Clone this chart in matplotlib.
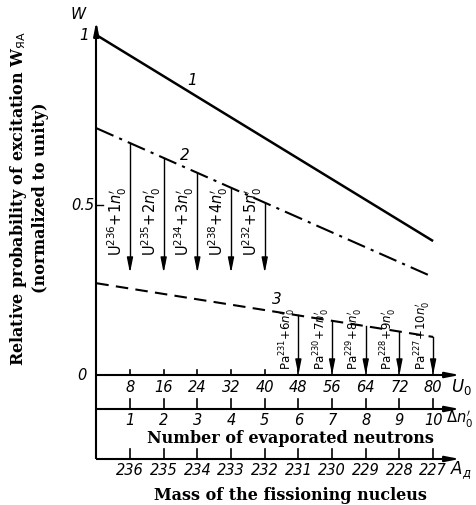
import matplotlib
matplotlib.use("Agg")
import matplotlib.pyplot as plt

# ---------------- data ----------------
U0_ticks = [8, 16, 24, 32, 40, 48, 56, 64, 72, 80]
dn_ticks = [1, 2, 3, 4, 5, 6, 7, 8, 9, 10]
A_ticks = [236, 235, 234, 233, 232, 231, 230, 229, 228, 227]

line_x = [0, 80]
line1 = [1.0, 0.394]
line2 = [0.726, 0.288]
line3 = [0.270, 0.112]

U_arrow_x = [8, 16, 24, 32, 40]
U_mass = [236, 235, 234, 238, 232]
U_n = [1, 2, 3, 4, 5]
U_arrow_end = 0.30

Pa_arrow_x = [48, 56, 64, 72, 80]
Pa_mass = [231, 230, 229, 228, 227]
Pa_n = [6, 7, 8, 9, 10]
Pa_arrow_end = 0.0

# ---------------- figure ----------------
fig = plt.figure(figsize=(4.76, 5.05), dpi=100)
ax = fig.add_axes([0, 0, 1, 1])
px_per_x = 4.21
px_per_y = 340.0
x0_px, y0_px = 96.3, 375.0
ax.set_xlim(-x0_px / px_per_x, (476 - x0_px) / px_per_x)
ax.set_ylim(-(505 - y0_px) / px_per_y, y0_px / px_per_y)
ax.axis("off")

IT = dict(family=["DejaVu Sans"], style="italic", color="black")
BOLD = dict(family=["DejaVu Serif"], weight="bold", color="black")

def interp(xs, ys, x):
    return ys[0] + (ys[1] - ys[0]) * (x - xs[0]) / (xs[1] - xs[0])

def arrow(x1, y1, x2, y2, lw=1.0, ms=10):
    ax.annotate("", xy=(x2, y2), xytext=(x1, y1),
                arrowprops=dict(arrowstyle="-|>,head_width=0.18,head_length=0.9",
                                lw=lw, color="black", mutation_scale=ms,
                                shrinkA=0, shrinkB=0))

# vertical axis
yb2 = -0.100
yb3 = -0.247
ax.plot([0, 0], [yb3, 1.0], color="black", lw=1.5, solid_capstyle="butt")
arrow(0, 1.0, 0, 1.04, lw=1.5, ms=9)
ax.plot([0, 1.5], [0.5, 0.5], color="black", lw=1.0)
ax.text(-3.0, 1.0, "1", fontsize=11, ha="center", va="center", **IT)
ax.text(-3.2, 0.5, "0.5", fontsize=10.5, ha="center", va="center", **IT)
ax.text(-3.4, 0.0, "0", fontsize=10.5, ha="center", va="center", **IT)
ax.text(-4.3, 1.06, "W", fontsize=11, ha="center", va="center", **IT)

# y label
ax.text(-18.4, 0.52, "Relative probability of excitation W$_{\\mathrm{ЯA}}$",
        rotation=90, fontsize=11.5, ha="center", va="center", **BOLD)
ax.text(-13.2, 0.52, "(normalized to unity)",
        rotation=90, fontsize=11.5, ha="center", va="center", **BOLD)

# horizontal axes
x_end = 86.3
for yb in (0.0, yb2, yb3):
    ax.plot([0, x_end - 1.5], [yb, yb], color="black", lw=1.5, solid_capstyle="butt")
    arrow(x_end - 2, yb, x_end, yb, lw=1.5, ms=9)

tick_h = 5 / px_per_y
for x in U0_ticks:
    ax.plot([x, x], [0, tick_h], color="black", lw=1.2)
    ax.plot([x, x], [yb2, yb2 + 2 * tick_h], color="black", lw=1.2)
    ax.plot([x, x], [yb3, yb3 + 2 * tick_h], color="black", lw=1.2)
for x, lab in zip(U0_ticks, U0_ticks):
    ax.text(x, -0.038, str(lab), fontsize=10.5, ha="center", va="center", **IT)
for x, lab in zip(U0_ticks, dn_ticks):
    ax.text(x, -0.135, str(lab), fontsize=10.5, ha="center", va="center", **IT)
for x, lab in zip(U0_ticks, A_ticks):
    ax.text(x, -0.282, str(lab), fontsize=10.5, ha="center", va="center", **IT)

ax.text(86.8, -0.035, "$U_0$", fontsize=12, ha="center", va="center", color="black")
ax.text(86.2, -0.13, "$\\Delta n_0^{\\prime}$", fontsize=10.5, ha="center", va="center", color="black")
ax.text(86.6, -0.28, "$A_д$", fontsize=12, ha="center", va="center", color="black")

ax.text(46.0, -0.188, "Number of evaporated neutrons", fontsize=11.5,
        ha="center", va="center", **BOLD)
ax.text(46.0, -0.353, "Mass of the fissioning nucleus", fontsize=11.5,
        ha="center", va="center", **BOLD)

# curves
ax.plot(line_x, line1, color="black", lw=1.8, solid_capstyle="butt")
ax.plot(line_x, line2, color="black", lw=1.5, dashes=(9, 3, 1.5, 3))
ax.plot(line_x, line3, color="black", lw=1.5, dashes=(6, 3.5))
ax.text(22.7, 0.865, "1", fontsize=11, ha="center", va="center", **IT)
ax.text(21.0, 0.645, "2", fontsize=11, ha="center", va="center", **IT)
ax.text(43.0, 0.222, "3", fontsize=11, ha="center", va="center", **IT)

# U arrows and labels
for x, m, n in zip(U_arrow_x, U_mass, U_n):
    ytop = interp(line_x, line2, x)
    ax.plot([x, x], [ytop, U_arrow_end + 0.03], color="black", lw=1.0)
    arrow(x, U_arrow_end + 0.035, x, U_arrow_end, lw=1.0, ms=10)
    ax.text(x - 3.0, 0.35, "$\\mathrm{U}^{%d}{+}%dn_0^{\\prime}$" % (m, n),
            rotation=90, fontsize=10.5, ha="center", va="bottom", color="black")

# Pa arrows and labels
for x, m, n in zip(Pa_arrow_x, Pa_mass, Pa_n):
    ytop = interp(line_x, line3, x)
    ax.plot([x, x], [ytop, Pa_arrow_end + 0.03], color="black", lw=1.0)
    arrow(x, Pa_arrow_end + 0.035, x, Pa_arrow_end, lw=1.0, ms=10)
    ax.text(x - 2.5, 0.015, "$\\mathrm{Pa}^{%d}{+}%dn_0^{\\prime}$" % (m, n),
            rotation=90, fontsize=8.5, ha="center", va="bottom", color="black")

fig.savefig("out.png", dpi=100)
